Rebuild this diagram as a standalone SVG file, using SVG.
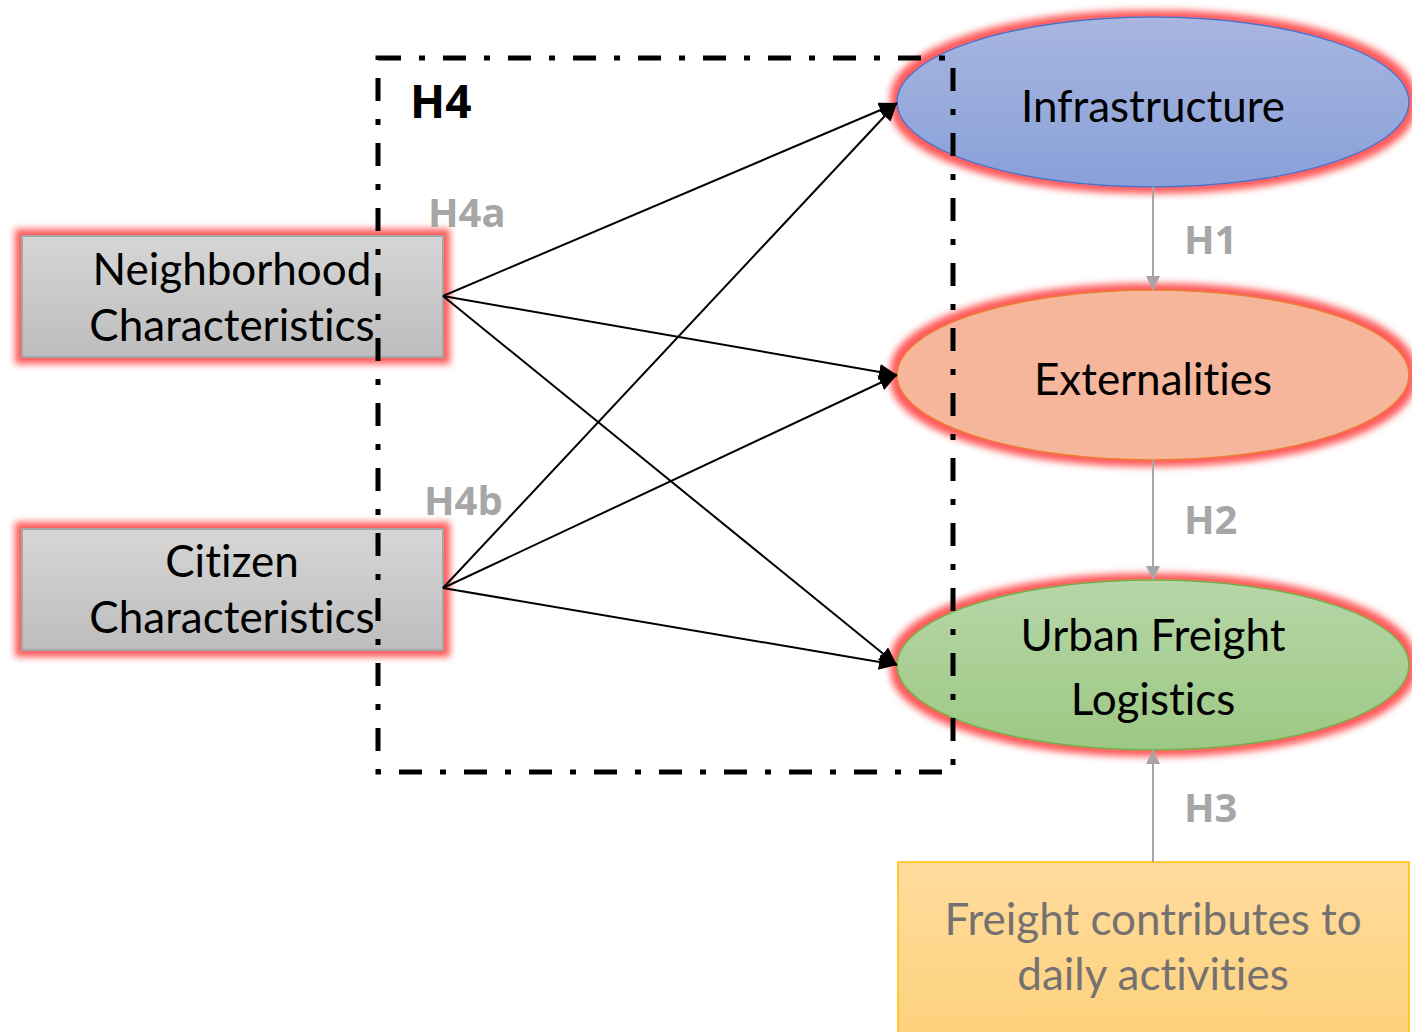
<svg xmlns="http://www.w3.org/2000/svg" width="1412" height="1032" viewBox="0 0 1412 1032">
<style>
.lbl{font-family:Lato,"Open Sans","DejaVu Sans",sans-serif;font-size:44px;fill:#000;text-anchor:middle;font-variant-ligatures:none;font-feature-settings:"liga" 0,"clig" 0}
.hyp{font-family:"Open Sans","Liberation Sans",sans-serif;font-weight:bold;font-size:40px;fill:#A6A6A6}
.conn{stroke:#000;stroke-width:2;fill:none;marker-end:url(#ah)}
.gconn{stroke:#A6A6A6;stroke-width:2;fill:none;marker-end:url(#gh)}
.frame{fill:none;stroke:#000;stroke-width:5;stroke-dasharray:23 18 6 18}
</style>
<defs>
<filter id="glow" x="-20%" y="-30%" width="140%" height="160%">
<feMorphology in="SourceAlpha" operator="dilate" radius="6" result="d"/>
<feGaussianBlur in="d" stdDeviation="3.5" result="b"/>
<feFlood flood-color="#FF5A5A"/>
<feComposite in2="b" operator="in" result="g"/>
<feMerge><feMergeNode in="g"/><feMergeNode in="SourceGraphic"/></feMerge>
</filter>
<linearGradient id="gGray" x1="0" y1="0" x2="0" y2="1"><stop offset="0" stop-color="#D6D6D6"/><stop offset="1" stop-color="#BDBDBD"/></linearGradient>
<linearGradient id="gBlue" x1="0" y1="0" x2="0" y2="1"><stop offset="0" stop-color="#A8B6E0"/><stop offset="1" stop-color="#88A0D8"/></linearGradient>
<linearGradient id="gGreen" x1="0" y1="0" x2="0" y2="1"><stop offset="0" stop-color="#B7D6A8"/><stop offset="1" stop-color="#9CC884"/></linearGradient>
<linearGradient id="gOrange" x1="0" y1="0" x2="0" y2="1"><stop offset="0" stop-color="#FFDC9E"/><stop offset="1" stop-color="#FDD179"/></linearGradient>
<marker id="ah" markerUnits="userSpaceOnUse" markerWidth="20" markerHeight="16" refX="18" refY="8" orient="auto"><path d="M0,0 L18,8 L0,16 Z" fill="#000"/></marker>
<marker id="gh" markerUnits="userSpaceOnUse" markerWidth="16" markerHeight="14" refX="14" refY="7" orient="auto"><path d="M0,0 L14,7 L0,14 Z" fill="#A6A6A6"/></marker>
</defs>
<rect width="1412" height="1032" fill="#fff"/>

<g id="neighborhood">
<rect x="22" y="236" width="421" height="121" fill="url(#gGray)" stroke="#A5A5A5" stroke-width="2" filter="url(#glow)"/>
<text class="lbl" x="232" y="285">Neighborhood</text>
<text class="lbl" x="232" y="341">Characteristics</text>
</g>
<g id="citizen">
<rect x="22" y="529" width="421" height="121" fill="url(#gGray)" stroke="#A5A5A5" stroke-width="2" filter="url(#glow)"/>
<text class="lbl" x="232" y="577">Citizen</text>
<text class="lbl" x="232" y="633">Characteristics</text>
</g>
<g id="infrastructure">
<ellipse cx="1153" cy="102" rx="256" ry="85" fill="url(#gBlue)" stroke="#4472C4" stroke-width="1.5" filter="url(#glow)"/>
<text class="lbl" x="1153" y="122">Infrastructure</text>
</g>
<g id="externalities">
<ellipse cx="1153" cy="375" rx="256" ry="85" fill="#F5B69B" stroke="#ED7D31" stroke-width="1.5" filter="url(#glow)"/>
<text class="lbl" x="1153" y="395">Externalities</text>
</g>
<g id="ufl">
<ellipse cx="1153" cy="665" rx="256" ry="85" fill="url(#gGreen)" stroke="#70AD47" stroke-width="1.5" filter="url(#glow)"/>
<text class="lbl" x="1153" y="651">Urban Freight</text>
<text class="lbl" x="1153" y="715">Logistics</text>
</g>
<g id="freight">
<rect x="898" y="862" width="511" height="190" fill="url(#gOrange)" stroke="#FFC000" stroke-width="1.5"/>
<text class="lbl" x="1153" y="935" style="fill:#767171">Freight contributes to</text>
<text class="lbl" x="1153" y="990" style="fill:#767171">daily activities</text>
</g>

<g id="connectors">
<line class="conn" x1="443" y1="296" x2="897" y2="103"/>
<line class="conn" x1="443" y1="296" x2="897" y2="375"/>
<line class="conn" x1="443" y1="296" x2="897" y2="665"/>
<line class="conn" x1="443" y1="588" x2="897" y2="103"/>
<line class="conn" x1="443" y1="588" x2="897" y2="375"/>
<line class="conn" x1="443" y1="588" x2="897" y2="665"/>
<line class="gconn" x1="1153" y1="187" x2="1153" y2="290"/>
<line class="gconn" x1="1153" y1="460" x2="1153" y2="580"/>
<line class="gconn" x1="1153" y1="862" x2="1153" y2="750"/>
<text class="hyp" x="1184" y="254">H1</text>
<text class="hyp" x="1184" y="534">H2</text>
<text class="hyp" x="1184" y="822">H3</text>
<text class="hyp" x="428" y="227">H4a</text>
<text class="hyp" x="424" y="515">H4b</text>
</g>

<g id="h4-frame">
<rect class="frame" x="378" y="58" width="575" height="714"/>
<text x="410" y="118" style="font-family:'Open Sans','Liberation Sans',sans-serif;font-weight:bold;font-size:46px;fill:#000">H4</text>
</g>
</svg>
